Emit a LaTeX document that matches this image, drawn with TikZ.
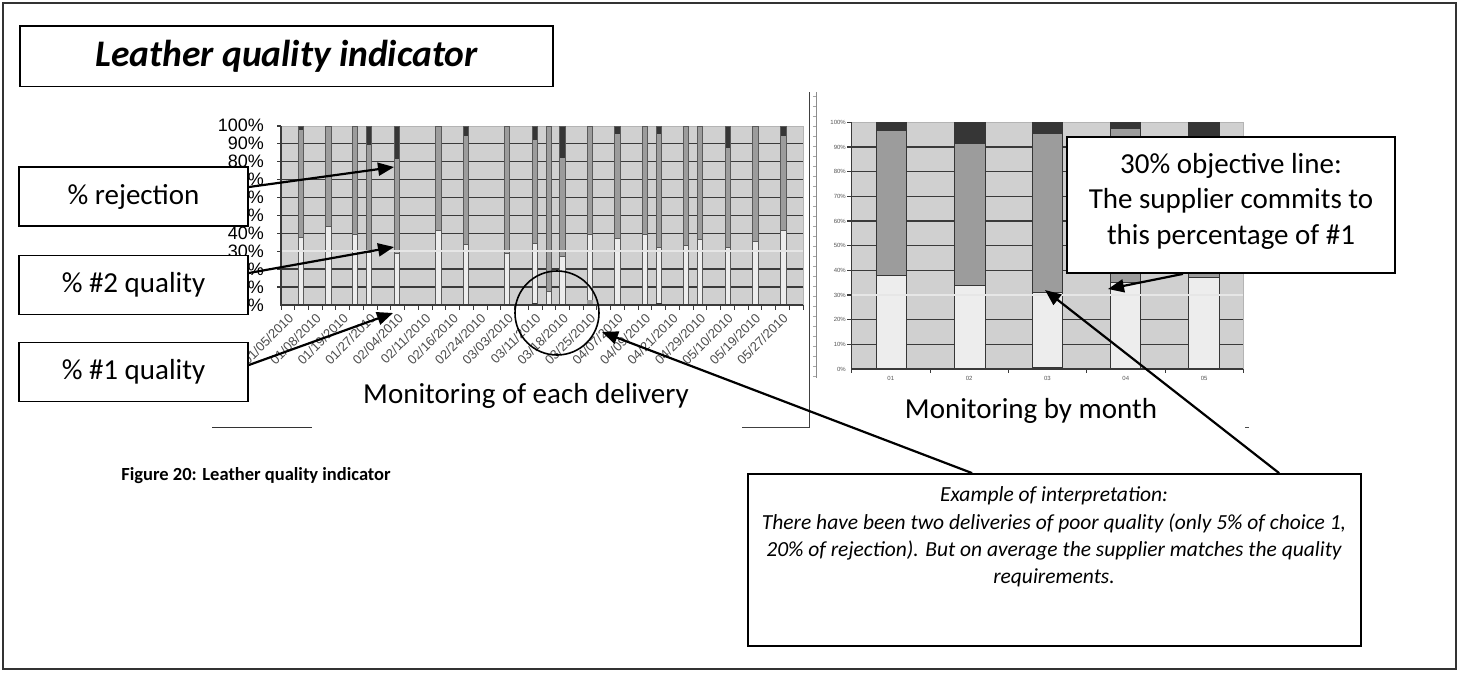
\documentclass[tikz,border=0pt]{standalone}
\usepackage{fontspec}
\setmainfont{Carlito}
\newfontfamily\chartfont{Liberation Sans}
\usetikzlibrary{arrows.meta,calc}

\definecolor{plotbg}{HTML}{D0D0D0}
\definecolor{gridc}{HTML}{3A3A3A}
\definecolor{midbar}{HTML}{9C9C9C}
\definecolor{darkbar}{HTML}{363636}
\definecolor{lightbar}{HTML}{EDEDED}
\definecolor{goalc}{HTML}{E6E6E6}
\definecolor{framec}{HTML}{B4B4B4}
\definecolor{barline}{HTML}{5A5A5A}
\definecolor{ticklbl}{HTML}{555555}

\newcommand\fsz[2]{\fontsize{#1}{#2}\selectfont}

\begin{document}
\begin{tikzpicture}[x=1pt,y=-1pt,
  box/.style={draw=black,line width=1.8pt,fill=white,inner sep=0pt},
  arr/.style={line width=2.2pt,-{Triangle[length=16pt,width=13pt]}},
  gridline/.style={draw=gridc,line width=1.3pt},
  axlbl/.style={anchor=east,inner sep=0pt,font=\chartfont\fsz{18}{18}},
  datelbl/.style={anchor=east,inner sep=0pt,rotate=45,text=black!70,font=\chartfont\fsz{13}{13}},
  tinylbl/.style={inner sep=0pt,text=ticklbl,font=\chartfont\fsz{6}{6}},
  boxtext/.style={inner sep=0pt,font=\fsz{29}{35.5}}]

\useasboundingbox (0,0) rectangle (1459,673);
\fill[white] (0,0) rectangle (1459,673);

% outer frame
\draw[line width=1.4pt,black!80] (3,3) rectangle (1456,669);

% title
\node[box,minimum width=533pt,minimum height=60.5pt] (title) at (286.5,56.3)
  {\fsz{37.5}{40}\bfseries\itshape Leather quality indicator};

% ---------------- chart: every delivery ----------------
\fill[plotbg] (281,126) rectangle (803,305);
\draw[framec,line width=1pt] (281,126) -- (803,126) -- (803,305);
\foreach \p in {10,20,...,90}
  \draw[gridline] (277,{305-\p*1.793}) -- (803,{305-\p*1.793});
\draw[gridline] (277,126) -- (281,126);

% bars: centre x / #1 quality / rejection
\foreach \x/\a/\r in {301/37.5/2.6, 328.5/44/0.4, 355/39.6/0.4, 369/29.5/10.8,
    397/28.8/18.6, 438.5/41.6/0.4, 466/34/6, 507/28.8/0.4, 534.7/34.4/7.8,
    548.7/7.5/0.4, 562.5/27/18.2, 590/39.4/1, 617.5/37/4.6, 645/39.4/0.4,
    659/32/4.6, 686/33/0.4, 700/36.6/0.4, 728/32/12.6, 755.5/35.3/0.4,
    783.3/41.8/6}{
  \fill[lightbar] (\x-2.7,305) rectangle (\x+2.7,{305-\a*1.793});
  \fill[midbar] (\x-2.7,{305-\a*1.793}) rectangle (\x+2.7,{305-(100-\r)*1.793});
  \fill[darkbar] (\x-2.7,{305-(100-\r)*1.793}) rectangle (\x+2.7,126);
  \draw[barline,line width=0.8pt] (\x-2.7,305) rectangle (\x+2.7,126);
  \draw[barline,line width=0.8pt] (\x-2.7,{305-\a*1.793}) -- (\x+2.7,{305-\a*1.793});
}
% small bottom segments of a few deliveries
\fill[darkbar] (532,305) rectangle (537.4,303);
\fill[midbar] (587.3,305) rectangle (592.7,299.5);
\fill[darkbar] (656.3,305) rectangle (661.7,303);

% 30 % objective line
\draw[goalc,line width=2.4pt] (281,251.2) -- (803,251.2);

% axes and ticks
\draw[gridc,line width=1.2pt] (281,126) -- (281,305) -- (803,305);
\foreach \k in {0,...,38}
  \draw[gridc,line width=1pt] ({281+\k*13.737},305) -- ({281+\k*13.737},309.5);
\foreach \p in {0,10,...,100}
  \node[axlbl] (yl\p) at (264,{305-\p*1.793}) {\p\%};
\foreach \d [count=\k from 0] in {01/05/2010,01/08/2010,01/19/2010,01/27/2010,
    02/04/2010,02/11/2010,02/16/2010,02/24/2010,03/03/2010,03/11/2010,
    03/18/2010,03/25/2010,04/07/2010,04/09/2010,04/21/2010,04/29/2010,
    05/10/2010,05/19/2010,05/27/2010}
  \node[datelbl] (xl\k) at ({291+\k*27.474},316) {\d};

\node[anchor=base,inner sep=0pt,font=\fsz{29}{35}] (capA) at (526,403)
  {Monitoring of each delivery};
\draw[black!80,line width=1pt] (212,427) -- (312,427);

% separator between the two charts
\draw[black!75,line width=1pt] (809,92) -- (809,428);
\draw[black!45,line width=1pt] (816,92) -- (816,378);
\foreach \t in {0,...,28}
  \draw[black!35,line width=0.6pt] (813,{96+\t*10}) -- (816,{96+\t*10});
\draw[black!75,line width=1pt] (742,427) -- (809,427);

% ---------------- chart: by month ----------------
\fill[plotbg] (851.7,122.3) rectangle (1243.3,369);
\draw[framec,line width=1pt] (851.7,122.3) -- (1243.3,122.3) -- (1243.3,369);
\foreach \p in {10,20,...,90}
  \draw[gridline] (847,{369-\p*2.467}) -- (1243.3,{369-\p*2.467});
\draw[gridline] (847,122.3) -- (851.7,122.3);
\foreach \x/\a/\r in {891.3/38.1/3.2, 969.7/33.8/8.6, 1047.3/31.1/4.7,
    1125.3/35/2.4, 1203.8/37.2/6}{
  \fill[lightbar] (\x-15.3,369) rectangle (\x+15.3,{369-\a*2.467});
  \fill[midbar] (\x-15.3,{369-\a*2.467}) rectangle (\x+15.3,{369-(100-\r)*2.467});
  \fill[darkbar] (\x-15.3,{369-(100-\r)*2.467}) rectangle (\x+15.3,122.3);
  \draw[darkbar,line width=0.9pt] (\x-15.3,369) rectangle (\x+15.3,122.3);
  \draw[darkbar,line width=0.9pt] (\x-15.3,{369-\a*2.467}) -- (\x+15.3,{369-\a*2.467});
  \draw[darkbar,line width=0.9pt] (\x-15.3,{369-(100-\r)*2.467}) -- (\x+15.3,{369-(100-\r)*2.467});
}
\fill[darkbar] (1032,369) rectangle (1062.6,366.8);
\draw[goalc,line width=2.6pt] (851.7,295) -- (1243.3,295);
\draw[gridc,line width=1.1pt] (851.7,122.3) -- (851.7,369) -- (1243.3,369);
\foreach \k in {0,...,5}
  \draw[gridc,line width=0.9pt] ({851.7+\k*78.32},369) -- ({851.7+\k*78.32},372.5);
\foreach \p in {0,10,...,100}
  \node[tinylbl,anchor=east] (ml\p) at (846,{369-\p*2.467}) {\p\%};
\foreach \m [count=\k from 0] in {01,02,03,04,05}
  \node[tinylbl] (mx\k) at ({890.8+\k*78.32},378) {\m};
\node[anchor=base,inner sep=0pt,font=\fsz{29}{35}] (capB) at (1031,418)
  {Monitoring by month};
\draw[black!70,line width=1pt] (1245,427) -- (1249,427);

% ---------------- legend boxes ----------------
\node[box,minimum width=229pt,minimum height=59pt] (rej) at (133.5,196.5)
  {\fsz{29}{35}\% rejection};
\node[box,minimum width=229pt,minimum height=59pt] (q2) at (133.5,285)
  {\fsz{29}{35}\% \#2 quality};
\node[box,minimum width=229pt,minimum height=59pt] (q1) at (133.5,372)
  {\fsz{29}{35}\% \#1 quality};

\coordinate (tipRej) at (394,167);
\coordinate (tipQ2) at (394,247);
\coordinate (tipQ1) at (393,313);
\draw[arr] ($(rej.east)+(0,-9.5)$) -- (tipRej);
\draw[arr] ($(q2.east)+(0,-12)$) -- (tipQ2);
\draw[arr] ($(q1.east)+(0,-7)$) -- (tipQ1);

% highlighted deliveries
\node[circle,draw=black,line width=1.6pt,minimum size=84pt,inner sep=0pt] (ring) at (557,313) {};

\node[font=\fsz{18.5}{22}\bfseries,inner sep=0pt] (fig) at (256,476)
  {Figure 20: Leather quality indicator};

% ---------------- objective box ----------------
\node[box,minimum width=328pt,minimum height=136pt] (obj) at (1231,205) {};
\node[boxtext,align=center] (objtxt) at (1231,201)
  {30\% objective line:\\The supplier commits to\\this percentage of \#1};
\coordinate (tipObj) at (1108,289);
\draw[arr] ($(obj.south)+(-48,0)$) -- (tipObj);

% ---------------- interpretation box ----------------
\node[box,minimum width=613pt,minimum height=172pt] (expl) at (1054.5,560) {};
\node[inner sep=0pt,align=center,font=\fsz{21.5}{27.3}\itshape] (expltxt) at (1054,537)
  {Example of interpretation:\\
   There have been two deliveries of poor quality (only 5\% of choice 1,\\
   20\% of rejection). But on average the supplier matches the quality\\
   requirements.};
\coordinate (tipRing) at (602,332);
\coordinate (tipMonth) at (1045,290);
\draw[arr] ($(expl.north west)+(225,0)$) -- (tipRing);
\draw[arr] ($(expl.north west)+(532,0)$) -- (tipMonth);

\end{tikzpicture}
\end{document}
